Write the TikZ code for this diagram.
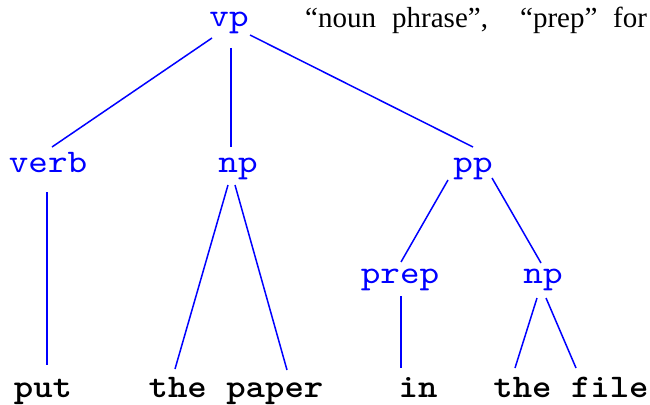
\documentclass[tikz,border=0pt]{standalone}
\usepackage{fontspec}
\newfontfamily\treefont{lmmono10-regular.otf}[FakeStretch=1.13]
\newfontfamily\leaffont{lmmonolt10-bold.otf}[FakeStretch=1.12]
\newfontfamily\bodyfont{Liberation Serif}
\begin{document}
\begin{tikzpicture}[x=1pt,y=-1pt,
  cat/.style={text=blue, font=\treefont\fontsize{33}{33}\selectfont, inner sep=0pt, anchor=base},
  leaf/.style={font=\leaffont\fontsize{33}{33}\selectfont, inner sep=0pt, anchor=base},
  edge/.style={blue, line width=1.5pt}]
\useasboundingbox (0,0) rectangle (650,404);
% category nodes
\node[cat] (vp) at (229,27) {vp};
\node[cat] (verb) at (48,172) {verb};
\node[cat] (np1) at (238,172) {np};
\node[cat] (pp) at (473,172) {pp};
\node[cat] (prep) at (400,283) {prep};
\node[cat] (np2) at (543,283) {np};
% leaves
\node[leaf] (put) at (43,397) {put};
\node[leaf] (thepaper) at (236,397) {the paper};
\node[leaf] (in) at (418,397) {in};
\node[leaf] (thefile) at (571,397) {the file};
% text fragment
\node[anchor=base west, inner sep=0pt, font=\bodyfont\fontsize{29}{29}\selectfont] (txt) at (305,28)
  {\makebox[87pt][l]{“noun}\makebox[128pt][l]{phrase”,}\makebox[93pt][l]{“prep”}for};
% connector end points
\coordinate (a1) at (212,38);  \coordinate (b1) at (52,147);
\coordinate (a2) at (231,48);  \coordinate (b2) at (231,147);
\coordinate (a3) at (250,35);  \coordinate (b3) at (473,147);
\coordinate (a4) at (47,192);  \coordinate (b4) at (47,365);
\coordinate (a5) at (228,185); \coordinate (b5) at (175,369);
\coordinate (a6) at (235,185); \coordinate (b6) at (287,370);
\coordinate (a7) at (448,180); \coordinate (b7) at (401,262);
\coordinate (a8) at (492,178); \coordinate (b8) at (541,263);
\coordinate (a9) at (401,296); \coordinate (b9) at (401,368);
\coordinate (a10) at (537,298); \coordinate (b10) at (515,368);
\coordinate (a11) at (546,298); \coordinate (b11) at (576,368);
\foreach \i in {1,...,11} \draw[edge] (a\i) -- (b\i);
\end{tikzpicture}
\end{document}
